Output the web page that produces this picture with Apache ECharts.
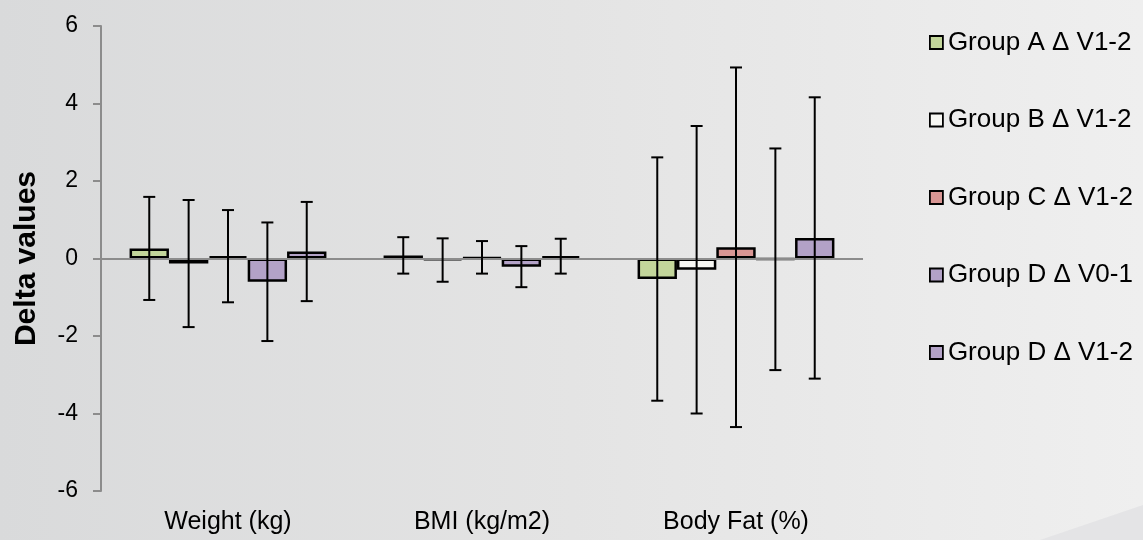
<!DOCTYPE html>
<html>
<head>
<meta charset="utf-8">
<script src="https://cdn.jsdelivr.net/npm/echarts@6/dist/echarts.min.js"></script>
<style>html,body{margin:0;padding:0;}#c{width:1143px;height:540px;}</style>
</head>
<body>
<div id="c"></div>
<script>
const categories = ['Weight (kg)', 'BMI (kg/m2)', 'Body Fat (%)'];
const seriesNames = ['Group A \u0394 V1-2', 'Group B \u0394 V1-2', 'Group C \u0394 V1-2', 'Group D \u0394 V0-1', 'Group D \u0394 V1-2'];
const yTicks = [-6, -4, -2, 0, 2, 4, 6];

const groupA = [0.26, 0.08, -0.53];
const groupB = [-0.13, -0.04, -0.29];
const groupC = [0.06, 0.03, 0.29];
const groupD01 = [-0.60, -0.21, -0.02];
const groupD12 = [0.18, 0.06, 0.53];

const sdA = [1.33, 0.47, 3.14];
const sdB = [1.64, 0.56, 3.71];
const sdC = [1.19, 0.42, 4.64];
const sdD01 = [1.53, 0.53, 2.86];
const sdD12 = [1.28, 0.45, 3.63];

const means = [groupA, groupB, groupC, groupD01, groupD12];
const sds = [sdA, sdB, sdC, sdD01, sdD12];
const colors = ['#c3d69b', '#f7f7f3', '#d99694', '#b3a2c7', '#b3a2c7'];

const BAR_FRAC = 0.155;
const FONT = '"Liberation Sans", Arial, sans-serif';

const chart = echarts.init(document.getElementById('c'));

const barSeries = seriesNames.map((name, i) => ({
  name: name,
  type: 'bar',
  data: means[i],
  barWidth: (BAR_FRAC * 100) + '%',
  barGap: '0%',
  itemStyle: { color: colors[i], borderColor: '#000', borderWidth: 2.5 },
  z: 2
}));

const errSeries = seriesNames.map((name, i) => ({
  name: name + ' err',
  type: 'custom',
  z: 5,
  data: categories.map((c, k) => [k, means[i][k] - sds[i][k], means[i][k] + sds[i][k]]),
  renderItem: function (params, api) {
    const band = api.size([1, 0])[0];
    const off = (i - 2) * BAR_FRAC * band;
    const lo = api.coord([api.value(0), api.value(1)]);
    const hi = api.coord([api.value(0), api.value(2)]);
    const x = lo[0] + off;
    const cap = 6;
    const st = { stroke: '#000', lineWidth: 2 };
    return {
      type: 'group',
      children: [
        { type: 'line', shape: { x1: x, y1: hi[1], x2: x, y2: lo[1] }, style: st },
        { type: 'line', shape: { x1: x - cap, y1: hi[1], x2: x + cap, y2: hi[1] }, style: st },
        { type: 'line', shape: { x1: x - cap, y1: lo[1], x2: x + cap, y2: lo[1] }, style: st }
      ]
    };
  },
  silent: true
}));

const zeroLine = {
  name: 'zero',
  type: 'line',
  data: [],
  z: 4,
  silent: true,
  markLine: {
    silent: true,
    symbol: 'none',
    label: { show: false },
    lineStyle: { color: '#8c8c8c', width: 2, type: 'solid' },
    data: [{ yAxis: 0 }]
  }
};

chart.setOption({
  animation: false,
  backgroundColor: {
    type: 'linear', x: 0, y: 0, x2: 1, y2: 0,
    colorStops: [
      { offset: 0, color: '#d9dadb' },
      { offset: 0.5, color: '#e4e4e4' },
      { offset: 1, color: '#efefef' }
    ]
  },
  graphic: [{
    type: 'polygon',
    shape: { points: [[1040, 540], [1143, 505], [1143, 540]] },
    style: { fill: '#e4e4e6' },
    z: -1
  }],
  grid: { left: 101, right: 280, top: 26, bottom: 49 },
  legend: {
    orient: 'vertical',
    left: 924,
    top: 24,
    itemWidth: 13,
    itemHeight: 13,
    itemGap: 50.5,
    icon: 'rect',
    data: seriesNames.map((n, i) => ({
      name: n,
      itemStyle: { color: colors[i], borderColor: '#000', borderWidth: 1.8 }
    })),
    textStyle: { fontFamily: FONT, fontSize: 26, color: '#000', lineHeight: 27 }
  },
  xAxis: {
    type: 'category',
    data: categories,
    axisLine: { show: false },
    axisTick: { show: false },
    axisLabel: { fontFamily: FONT, fontSize: 25, color: '#000', margin: 19 }
  },
  yAxis: {
    type: 'value',
    min: yTicks[0],
    max: yTicks[yTicks.length - 1],
    interval: 2,
    name: 'Delta values',
    nameLocation: 'middle',
    nameGap: 59,
    nameRotate: 90,
    nameTextStyle: { fontFamily: FONT, fontSize: 30, fontWeight: 'bold', color: '#000' },
    splitLine: { show: false },
    axisLine: { show: true, lineStyle: { color: '#8c8c8c', width: 2 } },
    axisTick: { show: true, length: 8, lineStyle: { color: '#8c8c8c', width: 2 } },
    axisLabel: { fontFamily: FONT, fontSize: 23, color: '#000', margin: 23 }
  },
  series: barSeries.concat([zeroLine]).concat(errSeries)
});
</script>
</body>
</html>
